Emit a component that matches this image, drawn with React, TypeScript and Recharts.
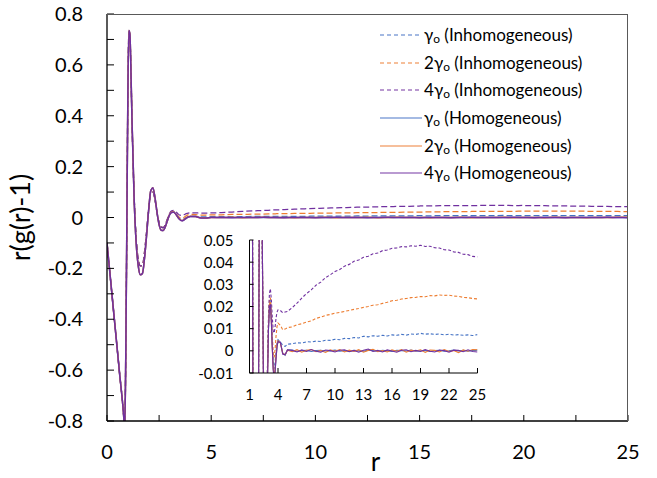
import { Legend, Line, LineChart, XAxis, YAxis } from 'recharts'

// r grid close to the core (shared by all curves, they overlap there)
const nearR = [0, 0.2, 0.4, 0.6, 0.8, 0.85, 0.9, 0.95, 1.0, 1.05, 1.1, 1.15, 1.2, 1.3, 1.4, 1.5, 1.6, 1.7, 1.8, 1.9, 2.0, 2.1, 2.2, 2.3, 2.4, 2.5, 2.6, 2.7, 2.8, 2.9]
const nearHomogeneous = [-0.1, -0.27, -0.44, -0.61, -0.78, -0.84, -0.55, -0.05, 0.47, 0.735, 0.72, 0.57, 0.38, 0.08, -0.1, -0.19, -0.225, -0.22, -0.16, -0.07, 0.03, 0.105, 0.117, 0.08, 0.02, -0.028, -0.05, -0.051, -0.036, -0.012]
const nearInhomogeneous = [-0.1, -0.27, -0.44, -0.61, -0.78, -0.84, -0.55, -0.05, 0.47, 0.73, 0.715, 0.57, 0.38, 0.09, -0.08, -0.165, -0.19, -0.188, -0.135, -0.055, 0.035, 0.095, 0.1, 0.07, 0.02, -0.02, -0.038, -0.04, -0.027, -0.006]

// r grid further out
const farR = [3.0, 3.1, 3.2, 3.3, 3.4, 3.5, 3.6, 3.7, 3.8, 3.9, 4.0, 4.25, 4.5, 4.75, 5.0, 5.5, 6.0, 6.5, 7.0, 7.5, 8.0, 8.5, 9.0, 9.5, 10.0, 10.5, 11.0, 11.5, 12.0, 12.5, 13.0, 13.5, 14.0, 14.5, 15.0, 15.5, 16.0, 16.5, 17.0, 17.5, 18.0, 18.5, 19.0, 19.5, 20.0, 20.5, 21.0, 21.5, 22.0, 22.5, 23.0, 23.5, 24.0, 24.5, 25.0]

const inhomFar1 = [0.011, 0.021, 0.023, 0.015, 0.004, -0.005, -0.008, -0.005, 0.0, 0.004, 0.005, 0.004, 0.0025, 0.002, 0.003,
  0.0032, 0.0036, 0.0035, 0.0041, 0.004, 0.0044, 0.0042, 0.0048, 0.0047, 0.0052, 0.005, 0.0056, 0.0055, 0.006, 0.0058, 0.0066, 0.0063, 0.0068, 0.0066, 0.007,
  0.0067, 0.0072, 0.007, 0.0074, 0.0071, 0.0076, 0.0074, 0.0079, 0.0075, 0.0077, 0.0074, 0.0076, 0.0072, 0.0075, 0.0071, 0.0073, 0.007, 0.0072, 0.0069, 0.0073]
const inhomFar2 = [0.013, 0.023, 0.024, 0.017, 0.007, -0.001, -0.003, 0.001, 0.007, 0.011, 0.0125, 0.0115, 0.0095, 0.0098, 0.0105,
  0.0108, 0.0118, 0.0122, 0.013, 0.0135, 0.0146, 0.0152, 0.016, 0.0164, 0.017, 0.0173, 0.0178, 0.0182, 0.0187, 0.0191, 0.0196, 0.02, 0.0206, 0.0208, 0.0214,
  0.0219, 0.0226, 0.0228, 0.0234, 0.0236, 0.024, 0.0241, 0.0245, 0.0244, 0.0249, 0.0248, 0.0252, 0.025, 0.0251, 0.0247, 0.0246, 0.0241, 0.024, 0.0236, 0.0234]
const inhomFar4 = [0.016, 0.026, 0.028, 0.023, 0.015, 0.009, 0.008, 0.011, 0.015, 0.0175, 0.0185, 0.0182, 0.0172, 0.0175, 0.0178,
  0.0195, 0.0215, 0.0238, 0.0258, 0.0275, 0.0296, 0.031, 0.033, 0.0343, 0.0358, 0.0367, 0.0382, 0.039, 0.0404, 0.041, 0.0422, 0.0427, 0.0438, 0.0441, 0.0452,
  0.0455, 0.0463, 0.0464, 0.047, 0.0469, 0.0474, 0.0472, 0.0476, 0.0471, 0.0472, 0.0465, 0.0464, 0.0456, 0.0455, 0.0446, 0.0444, 0.0436, 0.0434, 0.0426, 0.0424]
const homFar1 = [0.01, 0.02, 0.022, 0.014, 0.002, -0.008, -0.012, -0.009, -0.003, 0.002, 0.004, 0.004, -0.001, -0.002, 0.0005,
  0.0003, -0.0002, 0.0001, 0.0002, -0.0003, 0.0001, 0.0002, -0.0001, 0.0, 0.0003, -0.0002, 0.0001, -0.0003, 0.0002, 0.0, -0.0002, 0.0003, 0.0001, -0.0002, 0.0002,
  0.0, -0.0003, 0.0002, 0.0001, -0.0001, 0.0003, -0.0002, 0.0, 0.0002, -0.0003, 0.0001, 0.0002, -0.0002, 0.0, 0.0003, -0.0001, 0.0002, -0.0002, 0.0001, 0.0003]
const homFar2 = [0.011, 0.021, 0.022, 0.013, 0.001, -0.008, -0.012, -0.008, -0.002, 0.003, 0.0045, 0.0035, -0.0012, -0.0018, 0.0003,
  -0.0004, 0.0005, -0.0006, 0.0003, 0.0006, -0.0004, 0.0002, -0.0007, 0.0004, -0.0002, 0.0006, -0.0005, 0.0003, -0.0003, 0.0005, -0.0006, 0.0002, 0.0007, -0.0004, 0.0001,
  -0.0005, 0.0004, -0.0002, 0.0006, -0.0006, 0.0003, -0.0001, 0.0005, -0.0007, 0.0004, 0.0002, -0.0005, 0.0006, -0.0003, 0.0001, -0.0008, 0.0004, -0.0002, 0.0006, 0.0005]
const homFar4 = [0.01, 0.02, 0.021, 0.013, 0.001, -0.009, -0.013, -0.009, -0.003, 0.002, 0.0042, 0.0038, -0.0015, -0.0017, 0.0004,
  0.0002, -0.0005, 0.0004, -0.0003, 0.0006, -0.0002, -0.0006, 0.0004, 0.0001, -0.0005, 0.0003, 0.0005, -0.0004, 0.0002, -0.0006, 0.0003, 0.0008, -0.0003, 0.0002, -0.0005,
  0.0004, -0.0001, -0.0006, 0.0003, 0.0005, -0.0004, 0.0002, -0.0003, 0.0006, -0.0002, -0.0005, 0.0004, 0.0001, -0.0006, 0.0003, 0.0002, -0.0004, 0.0005, -0.0003, -0.0005]

const mainXTicks = [0, 2.5, 5, 7.5, 10, 12.5, 15, 17.5, 20, 22.5, 25]
const mainYTicks = [-0.8, -0.7, -0.6, -0.5, -0.4, -0.3, -0.2, -0.1, 0, 0.1, 0.2, 0.3, 0.4, 0.5, 0.6, 0.7, 0.8]
const insetXTicks = [1, 4, 7, 10, 13, 16, 19, 22, 25]
const insetYTicks = [-0.01, 0, 0.01, 0.02, 0.03, 0.04, 0.05]

const FONT = 'Lato, "Open Sans", sans-serif'

const series = [
  { key: 'inhom1', coef: '', kind: 'Inhomogeneous', color: '#4472C4', dashed: true, values: [...nearInhomogeneous, ...inhomFar1] },
  { key: 'inhom2', coef: '2', kind: 'Inhomogeneous', color: '#ED7D31', dashed: true, values: [...nearInhomogeneous, ...inhomFar2] },
  { key: 'inhom4', coef: '4', kind: 'Inhomogeneous', color: '#7030A0', dashed: true, values: [...nearInhomogeneous, ...inhomFar4] },
  { key: 'hom1', coef: '', kind: 'Homogeneous', color: '#4472C4', dashed: false, values: [...nearHomogeneous, ...homFar1] },
  { key: 'hom2', coef: '2', kind: 'Homogeneous', color: '#ED7D31', dashed: false, values: [...nearHomogeneous, ...homFar2] },
  { key: 'hom4', coef: '4', kind: 'Homogeneous', color: '#7030A0', dashed: false, values: [...nearHomogeneous, ...homFar4] },
]

const rValues = [...nearR, ...farR]
const rows = rValues.map((r, i) => {
  const row: Record<string, number> = { r }
  series.forEach(s => {
    row[s.key] = s.values[i]
  })
  return row
})

function MainXTick({ x, y, payload }: any) {
  const v = payload.value
  return (
    <g>
      <line stroke="#000" x1={x} x2={x} y1={y} y2={y - 6} />
      {v % 5 === 0 && (
        <text fill="#000" fontFamily={FONT} fontSize={20} textAnchor="middle" x={x} y={y + 38}>
          {v}
        </text>
      )}
    </g>
  )
}

function MainYTick({ x, y, payload }: any) {
  const v = payload.value
  return (
    <g>
      <line stroke="#000" x1={x} x2={x + 7} y1={y} y2={y} />
      {Math.round(v * 10) % 2 === 0 && (
        <text fill="#000" fontFamily={FONT} fontSize={20} textAnchor="end" x={x - 24} y={y + 7}>
          {v}
        </text>
      )}
    </g>
  )
}

function InsetXTick({ x, y, payload }: any) {
  return (
    <g>
      <line stroke="#000" x1={x} x2={x} y1={y} y2={y - 5} />
      <text fill="#000" fontFamily={FONT} fontSize={15} textAnchor="middle" x={x} y={y + 27}>
        {payload.value}
      </text>
    </g>
  )
}

function InsetYTick({ x, y, payload }: any) {
  return (
    <g>
      <line stroke="#000" x1={x} x2={x + 4} y1={y} y2={y} />
      <text fill="#000" fontFamily={FONT} fontSize={15} textAnchor="end" x={x - 16} y={y + 5.5}>
        {payload.value}
      </text>
    </g>
  )
}

function YTitle({ viewBox }: any) {
  const cy = viewBox.y + viewBox.height / 2
  return (
    <text fill="#000" fontFamily={FONT} fontSize={27} textAnchor="middle" transform={`rotate(-90, 21, ${cy})`} x={21} y={cy + 9}>
      r(g(r)-1)
    </text>
  )
}

function XTitle({ viewBox }: any) {
  return (
    <text fill="#000" fontFamily={FONT} fontSize={26} textAnchor="middle" x={viewBox.x + viewBox.width / 2 + 8} y={viewBox.y + 50}>
      r
    </text>
  )
}

function LegendBox() {
  return (
    <div style={{ fontFamily: FONT, fontSize: 17, color: '#000' }}>
      {series.map(s => (
        <div key={s.key} style={{ display: 'flex', alignItems: 'center', height: 27.7, whiteSpace: 'nowrap' }}>
          <svg height={4} width={42}>
            <line
              stroke={s.color}
              strokeDasharray={s.dashed ? '4 3' : undefined}
              strokeOpacity={0.65}
              strokeWidth={1.5}
              x1={0}
              x2={42}
              y1={2}
              y2={2}
            />
          </svg>
          <span style={{ marginLeft: 2 }}>
            {s.coef}γ<span style={{ fontSize: '0.7em', verticalAlign: '-0.15em' }}>o</span> ({s.kind})
          </span>
        </div>
      ))}
    </div>
  )
}

function MainChart() {
  return (
    <LineChart data={rows} height={478} margin={{ top: 14, right: 29, bottom: 0, left: 0 }} width={657}>
      <XAxis
        allowDataOverflow
        axisLine={{ stroke: '#000', strokeWidth: 1.3 }}
        dataKey="r"
        domain={[0, 25]}
        height={57}
        interval={0}
        label={<XTitle />}
        tick={<MainXTick />}
        tickLine={false}
        tickMargin={0}
        tickSize={0}
        ticks={mainXTicks}
        type="number"
      />
      <YAxis
        allowDataOverflow
        axisLine={{ stroke: '#000', strokeWidth: 1.3 }}
        domain={[-0.8, 0.8]}
        interval={0}
        label={<YTitle />}
        tick={<MainYTick />}
        tickLine={false}
        tickMargin={0}
        tickSize={0}
        ticks={mainYTicks}
        type="number"
        width={107}
      />
      {series.map(s => (
        <Line
          dataKey={s.key}
          dot={false}
          isAnimationActive={false}
          key={s.key}
          stroke={s.color}
          strokeDasharray={s.dashed ? '6 3' : undefined}
          strokeWidth={s.dashed ? 1.25 : 1.5}
          type="monotone"
        />
      ))}
      <Legend
        align="center"
        content={() => <LegendBox />}
        layout="vertical"
        verticalAlign="middle"
        wrapperStyle={{ left: 380, top: 21, width: 270, height: 'auto' }}
      />
    </LineChart>
  )
}

function InsetChart() {
  return (
    <LineChart data={rows} height={190} margin={{ top: 15, right: 22.5, bottom: 0, left: 0 }} width={320}>
      <XAxis
        allowDataOverflow
        axisLine={{ stroke: '#000' }}
        dataKey="r"
        domain={[1, 25]}
        height={42}
        interval={0}
        tick={<InsetXTick />}
        tickLine={false}
        tickMargin={0}
        tickSize={0}
        ticks={insetXTicks}
        type="number"
      />
      <YAxis
        allowDataOverflow
        axisLine={{ stroke: '#000' }}
        domain={[-0.01, 0.05]}
        interval={0}
        tick={<InsetYTick />}
        tickLine={false}
        tickMargin={0}
        tickSize={0}
        ticks={insetYTicks}
        type="number"
        width={69.5}
      />
      {series.map(s => (
        <Line
          dataKey={s.key}
          dot={false}
          isAnimationActive={false}
          key={s.key}
          stroke={s.color}
          strokeDasharray={s.dashed ? '3 2' : undefined}
          strokeWidth={1.1}
          type="linear"
        />
      ))}
    </LineChart>
  )
}

export default function App() {
  return (
    <div style={{ position: 'absolute', left: 0, top: 0, width: 657, height: 478, background: '#fff', fontFamily: FONT }}>
      <MainChart />
      <div
        style={{
          position: 'absolute',
          left: 107,
          top: 14,
          width: 521,
          height: 407,
          borderTop: '1px solid #595959',
          borderRight: '1px solid #595959',
          boxSizing: 'border-box',
          pointerEvents: 'none',
        }}
      />
      <div style={{ position: 'absolute', left: 180, top: 225 }}>
        <InsetChart />
      </div>
    </div>
  )
}
